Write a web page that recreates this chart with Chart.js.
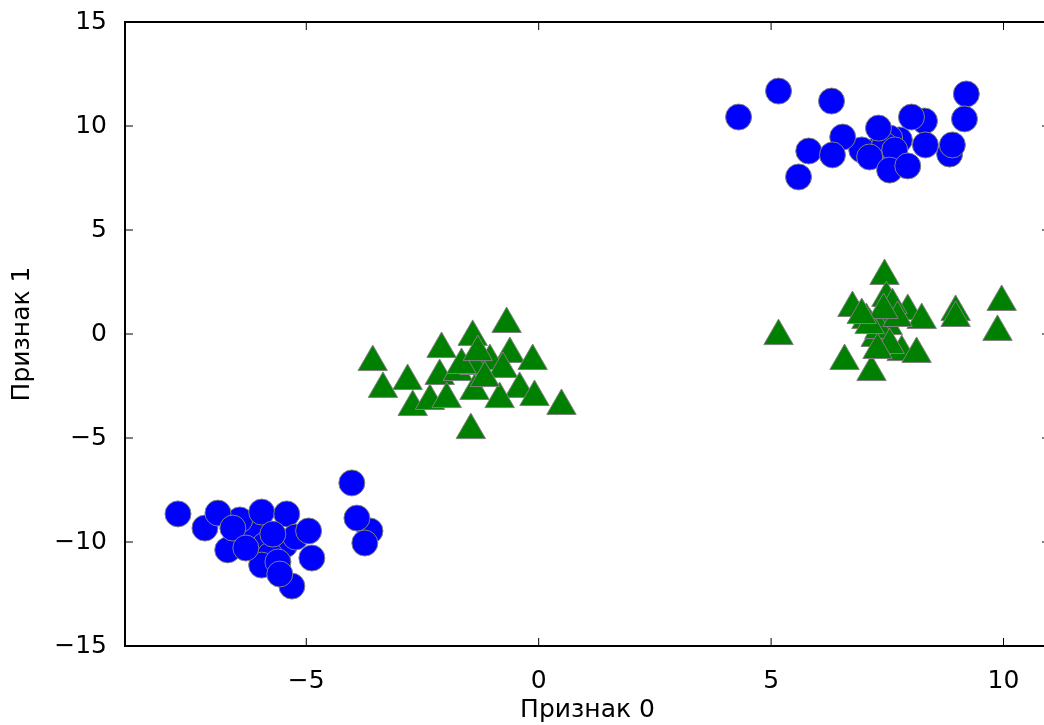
<!DOCTYPE html>
<html>
<head>
<meta charset="utf-8">
<script src="https://cdn.jsdelivr.net/npm/chart.js@4/dist/chart.umd.min.js"></script>
<style>
  html, body { margin: 0; padding: 0; background: #fff; overflow: hidden; }
  #zone { width: 1060px; height: 725px; }
</style>
</head>
<body>
<div id="zone"><canvas id="nuage" width="1060" height="725"></canvas></div>
<script>
// Classe 0 : cercles bleus (deux amas), les points cachés en premier
const bleuX = [7.29, 7.76, 6.95, 7.61, 7.55, 7.44, 7.66,
    4.30, 5.16, 6.30, 9.20, 9.16, 8.30, 8.02, 6.54, 5.81, 6.32, 5.59, 8.84, 8.90,
    8.32, 7.12, 7.55, 7.94, 7.31,
    -6.11, -5.89, -5.46, -5.78, -6.43, -7.18, -6.90, -6.69, -6.58, -5.96, -5.42, -5.23, -4.95,
    -4.88, -5.31, -5.96, -5.61, -5.57, -6.30, -5.72, -7.76, -4.02, -3.63, -3.91, -3.74];
const bleuY = [8.85, 9.33, 8.85, 8.46, 9.42, 9.09, 8.85,
    10.43, 11.68, 11.20, 11.54, 10.34, 10.24, 10.43, 9.47, 8.80, 8.61, 7.55, 8.65, 9.09,
    9.09, 8.51, 7.88, 8.08, 9.90,
    -9.42, -10.14, -10.14, -10.63, -8.94, -9.33, -8.61, -10.38, -9.33, -8.56, -8.65, -9.76, -9.47,
    -10.77, -12.12, -11.11, -10.96, -11.54, -10.29, -9.62, -8.65, -7.16, -9.47, -8.85, -10.05];

// Classe 1 : triangles verts (deux amas)
const vertX = [5.16, 6.75, 6.58, 7.16, 7.05, 7.44, 7.48, 7.94, 8.24, 8.97, 8.97, 9.96, 9.87,
    7.51, 7.81, 8.13, 7.25, 7.33, 7.55, 7.12, 7.61, 7.29, 7.72, 7.42, 6.95,
    -3.57, -3.35, -2.82, -2.71, -2.09, -2.13, -2.34, -1.98, -1.74, -1.46, -0.69, -1.42, -0.62,
    -0.13, -1.05, -1.38, -0.77, -0.41, -1.38, -0.84, -0.09, 0.49, -1.66, -1.16, -1.31];
const vertY = [-0.10, 1.25, -1.30, -1.83, 0.67, 2.79, 1.73, 1.11, 0.67, 1.06, 0.77, 1.54, 0.10,
    0.38, -0.87, -0.96, -0.19, 0.19, -0.53, 0.43, 1.39, -0.77, 0.77, 1.15, 0.91,
    -1.35, -2.64, -2.26, -3.51, -0.72, -2.02, -3.22, -3.13, -1.83, -4.62, 0.48, -0.14, -0.96,
    -1.30, -1.30, -1.54, -1.68, -2.64, -2.74, -3.13, -3.03, -3.46, -1.49, -2.12, -0.87];

const ticksX = [-5, 0, 5, 10];
const ticksY = [-15, -10, -5, 0, 5, 10, 15];

const points = (xs, ys) => xs.map((v, i) => ({ x: v, y: ys[i] }));
const moins = v => String(v).replace('-', '\u2212');
const police = { family: 'DejaVu Sans', size: 25 };

// Cadre noir et graduations tournées vers l'intérieur, sur les quatre côtés
const cadre = {
    id: 'cadre',
    afterDatasetsDraw(chart) {
        const { ctx, chartArea: a, scales: { x, y } } = chart;
        ctx.save();
        ctx.strokeStyle = '#000';
        ctx.lineWidth = 1;
        ctx.beginPath();
        ticksX.forEach(t => {
            const px = x.getPixelForValue(t);
            ctx.moveTo(px, a.bottom); ctx.lineTo(px, a.bottom - 8);
            ctx.moveTo(px, a.top); ctx.lineTo(px, a.top + 8);
        });
        ticksY.forEach(t => {
            const py = y.getPixelForValue(t);
            ctx.moveTo(a.left, py); ctx.lineTo(a.left + 8, py);
            ctx.moveTo(a.right, py); ctx.lineTo(a.right - 8, py);
        });
        ctx.stroke();
        ctx.lineWidth = 2;
        ctx.strokeRect(a.left, a.top, a.right - a.left, a.bottom - a.top);
        ctx.restore();
    }
};

new Chart(document.getElementById('nuage'), {
    type: 'scatter',
    data: {
        datasets: [{
            label: 'Класс 1',
            data: points(vertX, vertY),
            pointStyle: 'triangle',
            pointRadius: 17,
            backgroundColor: '#008000',
            borderColor: '#808080',
            borderWidth: 1
        }, {
            label: 'Класс 0',
            data: points(bleuX, bleuY),
            pointStyle: 'circle',
            pointRadius: 13,
            backgroundColor: '#0000ff',
            borderColor: '#808080',
            borderWidth: 1
        }]
    },
    options: {
        responsive: false,
        animation: false,
        layout: { autoPadding: false, padding: { left: 0, top: 22, right: 10, bottom: 0 } },
        plugins: { legend: { display: false }, tooltip: { enabled: false } },
        scales: {
            x: {
                min: -8.9,
                max: 11,
                afterBuildTicks: s => { s.ticks = ticksX.map(v => ({ value: v })); },
                afterFit: s => { s.height = 79; s.paddingLeft = 0; s.paddingRight = 0; },
                grid: { display: false },
                border: { display: false },
                ticks: { color: '#000', font: police, padding: 12, maxRotation: 0, callback: moins },
                title: { display: true, text: 'Признак 0', color: '#000', font: police, padding: { top: 0, bottom: 0 } }
            },
            y: {
                min: -15,
                max: 15,
                afterBuildTicks: s => { s.ticks = ticksY.map(v => ({ value: v })); },
                afterFit: s => { s.width = 125; s.paddingTop = 0; s.paddingBottom = 0; },
                grid: { display: false },
                border: { display: false },
                ticks: { color: '#000', font: police, padding: 10, callback: moins },
                title: { display: true, text: 'Признак 1', color: '#000', font: police, padding: { top: 7, bottom: 0 } }
            }
        }
    },
    plugins: [cadre]
});
</script>
</body>
</html>
